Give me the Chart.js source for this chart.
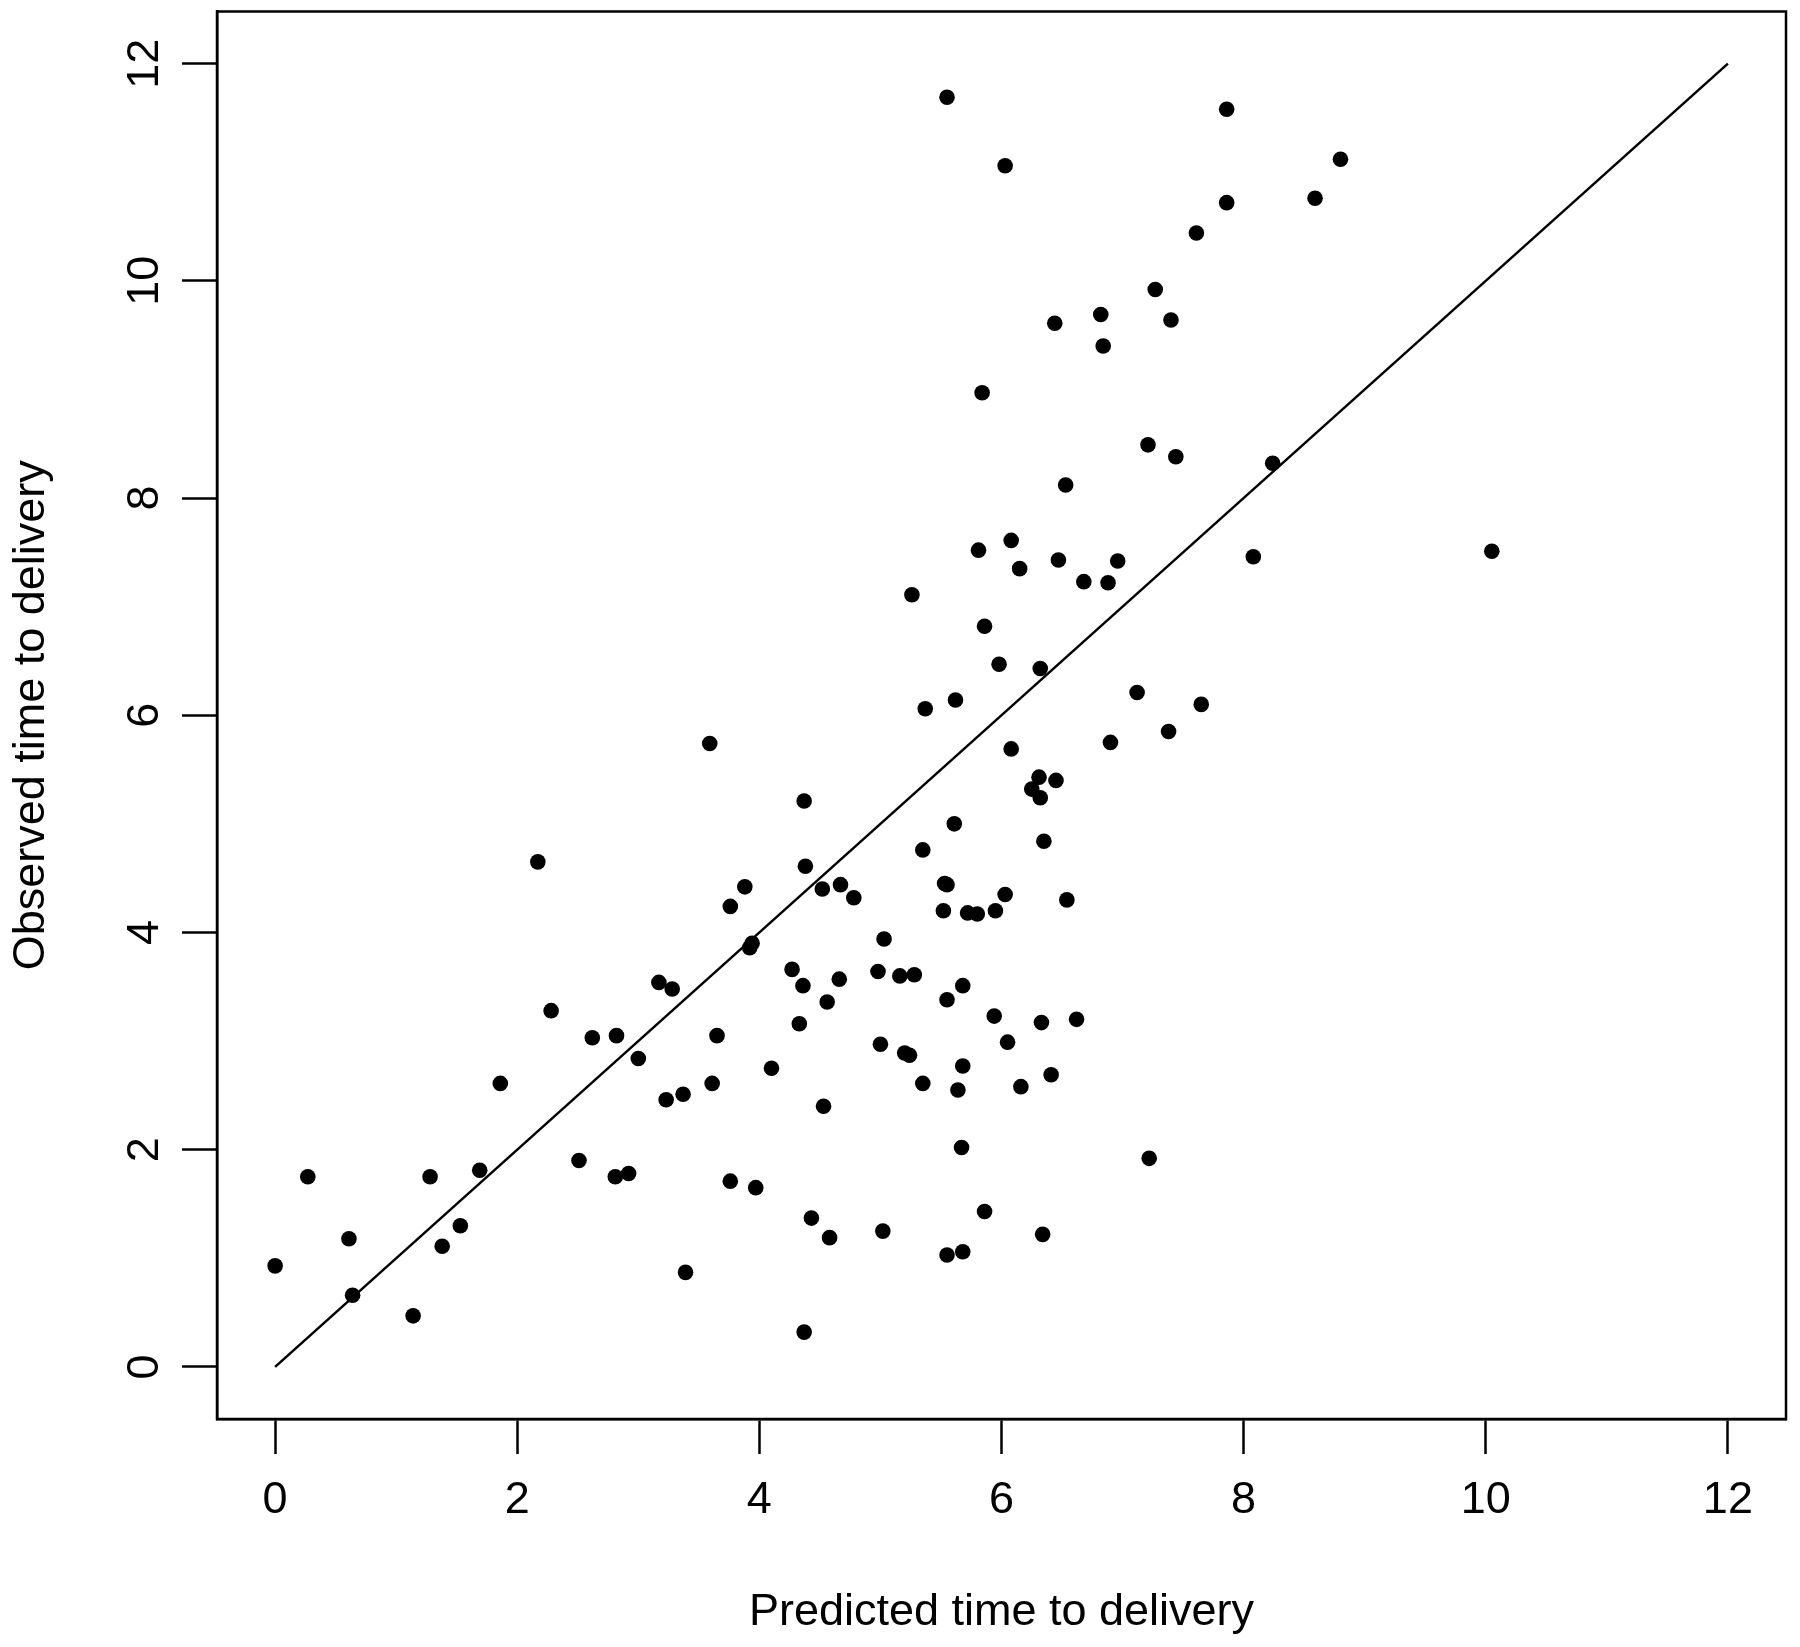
<!DOCTYPE html>
<html>
<head>
<meta charset="utf-8">
<title>Predicted vs observed time to delivery</title>
<script src="https://cdn.jsdelivr.net/npm/chart.js@4.4.1/dist/chart.umd.min.js"></script>
<style>
  body { margin: 0; background: #fff; }
  canvas { display: block; }
</style>
</head>
<body>
<canvas id="scatter" width="1800" height="1647"></canvas>
<script>
// values
var predicted = [0.00, 0.27, 0.61, 0.64, 1.14, 1.28, 1.38, 1.53, 1.69, 1.86,
	2.17, 2.28, 2.51, 2.62, 2.82, 2.81, 2.92, 3.00, 3.17, 3.23,
	3.28, 3.37, 3.39, 3.59, 3.61, 3.65, 3.76, 3.76, 3.88, 3.92,
	3.94, 3.97, 4.10, 4.27, 4.33, 4.36, 4.37, 4.37, 4.38, 4.43,
	4.52, 4.53, 4.56, 4.58, 4.66, 4.67, 4.78, 4.98, 5.00, 5.02,
	5.03, 5.16, 5.20, 5.24, 5.26, 5.28, 5.35, 5.35, 5.37, 5.52,
	5.53, 5.55, 5.55, 5.55, 5.55, 5.61, 5.62, 5.64, 5.67, 5.68,
	5.68, 5.68, 5.72, 5.80, 5.81, 5.84, 5.86, 5.86, 5.94, 5.95,
	5.98, 6.03, 6.03, 6.05, 6.08, 6.08, 6.15, 6.16, 6.25, 6.31,
	6.32, 6.32, 6.33, 6.34, 6.35, 6.41, 6.44, 6.45, 6.47, 6.53,
	6.54, 6.62, 6.68, 6.82, 6.84, 6.88, 6.90, 6.96, 7.12, 7.21,
	7.22, 7.27, 7.38, 7.40, 7.44, 7.61, 7.65, 7.86, 7.86, 8.08,
	8.24, 8.59, 8.80, 10.05];

var observed = [0.93, 1.75, 1.18, 0.66, 0.47, 1.75, 1.11, 1.30, 1.81, 2.61,
	4.65, 3.28, 1.90, 3.03, 3.05, 1.75, 1.78, 2.84, 3.54, 2.46,
	3.48, 2.51, 0.87, 5.74, 2.61, 3.05, 1.71, 4.24, 4.42, 3.86,
	3.90, 1.65, 2.75, 3.66, 3.16, 3.51, 5.21, 0.32, 4.61, 1.37,
	4.40, 2.40, 3.36, 1.19, 3.57, 4.44, 4.32, 3.64, 2.97, 1.25,
	3.94, 3.60, 2.89, 2.87, 7.11, 3.61, 4.76, 2.61, 6.06, 4.20,
	4.45, 3.38, 4.44, 1.03, 11.69, 5.00, 6.14, 2.55, 2.02, 3.51,
	2.77, 1.06, 4.18, 4.17, 7.52, 8.97, 6.82, 1.43, 3.23, 4.20,
	6.47, 4.35, 11.06, 2.99, 7.61, 5.69, 7.35, 2.58, 5.32, 5.43,
	6.43, 5.24, 3.17, 1.22, 4.84, 2.69, 9.61, 5.40, 7.43, 8.12,
	4.30, 3.20, 7.23, 9.69, 9.40, 7.22, 5.75, 7.42, 6.21, 8.49,
	1.92, 9.92, 5.85, 9.64, 8.38, 10.44, 6.10, 10.72, 11.58, 7.46,
	8.32, 10.76, 11.12, 7.51];

// identity line y = x
var lineX = [0, 12];
var tickValues = [0, 2, 4, 6, 8, 10, 12];

var points = predicted.map(function(x, i) { return {x: x, y: observed[i]}; });
var identity = lineX.map(function(v) { return {x: v, y: v}; });

var fontFamily = "'Liberation Sans', Arial, Helvetica, sans-serif";

// R style box around the plotting region
var boxPlugin = {
	id: 'box',
	afterDraw: function(chart) {
		var a = chart.chartArea, ctx = chart.ctx;
		ctx.save();
		ctx.strokeStyle = '#000';
		ctx.lineWidth = 2.5;
		ctx.strokeRect(a.left, a.top, a.right - a.left, a.bottom - a.top);
		ctx.restore();
	}
};

function fixedTicks(axis) {
	axis.ticks = tickValues.map(function(v) { return {value: v}; });
}

function noPad(axis) {
	axis.paddingTop = 0;
	axis.paddingBottom = 0;
	axis.paddingLeft = 0;
	axis.paddingRight = 0;
}

new Chart(document.getElementById("scatter"), {
	type: "scatter",
	data: {
		datasets: [
			{
				data: points,
				backgroundColor: "#000",
				borderWidth: 0,
				pointRadius: 7.8,
				pointHoverRadius: 7.8
			},
			{
				data: identity,
				showLine: true,
				borderColor: "#000",
				borderWidth: 2.5,
				pointRadius: 0,
				fill: false
			}
		]
	},
	options: {
		responsive: false,
		animation: false,
		devicePixelRatio: 1,
		layout: { padding: { top: 11.5, right: 14, left: 0, bottom: 0 } },
		plugins: { legend: { display: false }, tooltip: { enabled: false } },
		scales: {
			x: {
				type: "linear",
				min: -0.48,
				max: 12.48,
				afterBuildTicks: fixedTicks,
				afterFit: function(axis) { axis.height = 228; noPad(axis); },
				grid: { drawOnChartArea: false, drawTicks: true, tickLength: 35, tickColor: "#000", tickWidth: 2.5 },
				border: { display: true, color: "#000", width: 2.5 },
				ticks: { color: "#000", padding: 20, font: { family: fontFamily, size: 45 }, maxRotation: 0 },
				title: {
					display: true,
					text: "Predicted time to delivery",
					color: "#000",
					font: { family: fontFamily, size: 45 },
					padding: { top: 0, bottom: 7 }
				}
			},
			y: {
				type: "linear",
				min: -0.48,
				max: 12.48,
				afterBuildTicks: fixedTicks,
				afterFit: function(axis) { axis.width = 217; noPad(axis); },
				grid: { drawOnChartArea: false, drawTicks: true, tickLength: 35, tickColor: "#000", tickWidth: 2.5 },
				border: { display: true, color: "#000", width: 2.5 },
				ticks: { color: "#000", padding: 11, crossAlign: "center", minRotation: 90, maxRotation: 90, font: { family: fontFamily, size: 45 } },
				title: {
					display: true,
					text: "Observed time to delivery",
					color: "#000",
					font: { family: fontFamily, size: 45 },
					padding: { top: 5, bottom: 0 }
				}
			}
		}
	},
	plugins: [boxPlugin]
});
</script>
</body>
</html>
